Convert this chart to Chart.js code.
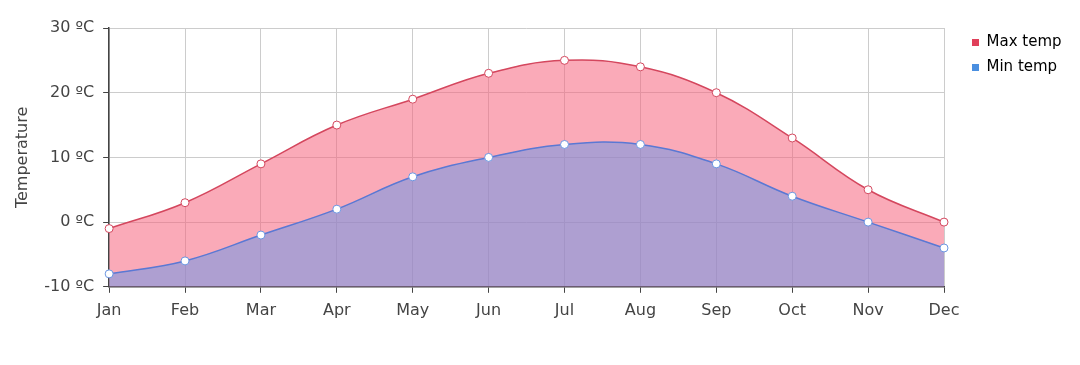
<!DOCTYPE html>
<html><head><meta charset="utf-8">
<script src="https://cdn.jsdelivr.net/npm/chart.js@4/dist/chart.umd.min.js"></script>
<style>html,body{margin:0;padding:0;background:#fff}#wrap{width:1080px;height:365px}</style>
</head><body><div id="wrap"><canvas id="c"></canvas></div>
<script>
const months = ['Jan','Feb','Mar','Apr','May','Jun','Jul','Aug','Sep','Oct','Nov','Dec'];
const maxTemp = [-1, 3, 9, 15, 19, 23, 25, 24, 20, 13, 5, 0];
const minTemp = [-8, -6, -2, 2, 7, 10, 12, 12, 9, 4, 0, -4];
const seriesNames = ['Max temp', 'Min temp'];
const yTicks = [-10, 0, 10, 20, 30];

const FONT = "'DejaVu Sans', Verdana, sans-serif";
Chart.defaults.font.family = FONT;
Chart.defaults.color = '#444';

const legendFix = {
  id: 'legendFix',
  beforeInit(chart) {
    const lg = chart.legend;
    const orig = lg.fit;
    lg.fit = function() { orig.call(this); this.width = 136; };
  },
  afterLayout(chart) {
    chart.legend.left += 18;
    chart.legend.top -= 3;
  }
};

new Chart(document.getElementById('c'), {
  type: 'line',
  data: {
    labels: months,
    datasets: [
      {label: seriesNames[0], data: maxTemp, order: 2, borderColor: '#d4475e', backgroundColor: 'rgba(245,100,125,0.55)',
       fill: 'start', tension: 0.4, borderWidth: 1.5, pointRadius: 4, pointBackgroundColor: '#fff',
       pointBorderColor: '#d4475e', pointBorderWidth: 1, legendColor: '#e0405a'},
      {label: seriesNames[1], data: minTemp, order: 1, borderColor: '#5a78d4', backgroundColor: 'rgba(100,150,236,0.5)',
       fill: 'start', tension: 0.4, borderWidth: 1.5, pointRadius: 4, pointBackgroundColor: '#fff',
       pointBorderColor: '#6b95e0', pointBorderWidth: 1, legendColor: '#4a8fe0'}
    ]
  },
  options: {
    responsive: true, maintainAspectRatio: false, animation: false,
    layout: {padding: {top: 28, right: 0, bottom: 37, left: 10}},
    plugins: {
      legend: {position: 'right', align: 'start',
        labels: {boxWidth: 7, boxHeight: 7, padding: 10, font: {size: 15, family: FONT}, color: '#444',
          generateLabels: (chart) => chart.data.datasets.map((d, i) => ({text: d.label, fillStyle: d.legendColor,
            strokeStyle: d.legendColor, lineWidth: 0, datasetIndex: i, hidden: false}))}},
      tooltip: {enabled: false}
    },
    scales: {
      x: {offset: false,
        grid: {color: '#ccc', tickLength: 6, tickColor: '#444', drawTicks: true},
        border: {color: '#444', width: 1.5},
        ticks: {font: {size: 16}, color: '#444', maxRotation: 0, padding: 8}},
      y: {min: -10, max: 30,
        afterBuildTicks: (s) => { s.ticks = yTicks.map(v => ({value: v})); },
        grid: {color: '#ccc', tickLength: 6, tickColor: '#444'},
        border: {color: '#444', width: 1.5},
        title: {display: true, text: 'Temperature', font: {size: 16}, color: '#444', padding: 3},
        ticks: {font: {size: 16}, color: '#444', padding: 9, callback: (v) => v + ' ºC'}}
    }
  },
  plugins: [legendFix]
});
</script></body></html>
